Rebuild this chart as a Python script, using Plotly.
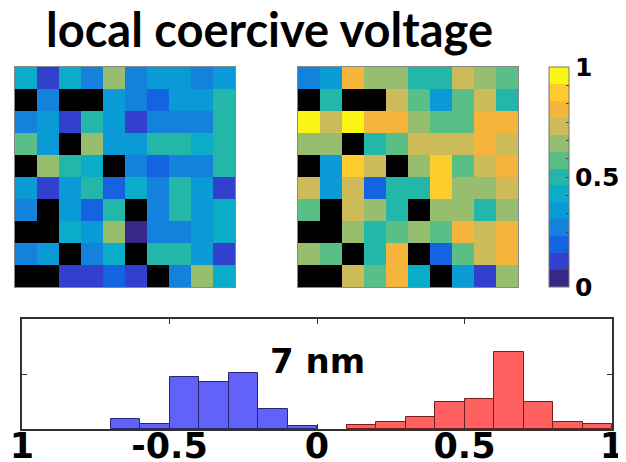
import plotly.graph_objects as go

# ---------------- data ----------------
N = None
left_map = [
    [0.42, 0.115, 0.42, 0.27, 0.68, 0.27, 0.35, 0.35, 0.27, 0.35],
    [N,    0.27,  N,    N,    0.35, 0.27, 0.19, 0.35, 0.35, 0.50],
    [0.27, 0.35,  0.115, 0.50, 0.35, 0.115, 0.27, 0.27, 0.27, 0.50],
    [0.58, 0.35,  N,    0.68, 0.35, 0.35, 0.50, 0.50, 0.42, 0.50],
    [N,    0.65,  0.50, 0.42, N,    0.27, 0.19, 0.27, 0.27, 0.50],
    [0.35, 0.115, 0.35, 0.50, 0.19, 0.42, 0.27, 0.50, 0.35, 0.115],
    [0.27, N,     0.35, 0.19, 0.50, N,    0.27, 0.50, 0.35, 0.42],
    [N,    N,     0.42, 0.35, 0.68, 0.04, 0.27, 0.27, 0.35, 0.42],
    [0.27, 0.35,  N,    0.27, 0.42, N,    0.50, 0.50, 0.35, 0.115],
    [N,    N,     0.115, 0.115, 0.19, 0.115, N,   0.27, 0.68, 0.42],
]
right_map = [
    [0.27, 0.35, 0.81, 0.65, 0.65, 0.50, 0.50, 0.73, 0.65, 0.58],
    [N,    0.50, N,    N,    0.73, 0.58, 0.35, 0.58, 0.73, 0.50],
    [0.96, 0.73, 0.96, 0.81, 0.81, 0.65, 0.58, 0.58, 0.81, 0.81],
    [0.65, 0.65, N,    0.50, 0.58, 0.73, 0.73, 0.73, 0.81, 0.73],
    [N,    0.35, 0.88, 0.73, N,    0.65, 0.88, 0.58, 0.73, 0.81],
    [0.73, 0.35, 0.73, 0.19, 0.50, 0.50, 0.88, 0.65, 0.65, 0.73],
    [0.58, N,    0.73, 0.65, 0.50, N,    0.65, 0.65, 0.50, 0.65],
    [N,    N,    0.65, 0.50, 0.58, 0.65, 0.58, 0.81, 0.73, 0.81],
    [0.65, 0.58, N,    0.50, 0.81, N,    0.19, 0.58, 0.73, 0.81],
    [N,    N,    0.73, 0.58, 0.81, 0.42, N,    0.35, 0.115, 0.65],
]

blue_bins = [-0.65, -0.55, -0.45, -0.35, -0.25, -0.15, -0.05]
blue_counts = [3.5, 1.8, 18.9, 17.1, 20.4, 7.3, 1.1]
red_bins = [0.15, 0.25, 0.35, 0.45, 0.55, 0.65, 0.75, 0.85, 0.95]
red_counts = [1.3, 2.7, 4.3, 9.9, 10.8, 27.9, 9.9, 2.5, 1.9]

hist_ticks = [-1, -0.5, 0, 0.5, 1]
hist_ticktext = ["1", "-0.5", "0", "0.5", "1"]
cbar_labels = {0: "0", 6: "0.5", 12: "1"}

title_text = "local coercive voltage"
label_text = "7 nm"

# ---------------- style ----------------
VW, VH = 626, 462          # browser viewport
OFF = 8                    # default page (body) margin
W, H = VW - OFF, VH - OFF  # figure size so the page fits the viewport exactly

band_colors = [
    "rgb(55,40,135)", "rgb(50,65,205)", "rgb(20,100,225)", "rgb(20,130,220)",
    "rgb(10,155,215)", "rgb(10,172,200)", "rgb(35,183,170)", "rgb(90,190,135)",
    "rgb(150,190,110)", "rgb(205,187,90)", "rgb(245,180,60)", "rgb(252,205,45)",
    "rgb(250,245,20)",
]
nb = len(band_colors)
cscale = []
for s, c in enumerate(band_colors):
    cscale.append([s / nb, c])
    cscale.append([(s + 1) / nb, c])


def fx(a):
    return (a - OFF) / W


def fy(a):
    return 1 - (a - OFF) / H


def px_x(a, b):
    return [fx(a), fx(b)]


def px_y(top, bottom):
    return [fy(bottom), fy(top)]


TFONT = "Lato"
NFONT = "DejaVu Sans"
fig = go.Figure()

fig.add_trace(go.Heatmap(z=left_map, zmin=0, zmax=1, colorscale=cscale,
                         showscale=False, xaxis="x", yaxis="y"))
nt = 12
fig.add_trace(go.Heatmap(
    z=right_map, zmin=0, zmax=1, colorscale=cscale, xaxis="x2", yaxis="y2",
    colorbar=dict(
        x=fx(549), xanchor="left", xpad=0, ypad=0,
        y=fy(177), yanchor="middle",
        thickness=20, thicknessmode="pixels", len=220, lenmode="pixels",
        outlinecolor="#777", outlinewidth=1,
        tickmode="array",
        tickvals=[i / nt for i in range(nt + 1)],
        ticktext=[cbar_labels.get(i, "") for i in range(nt + 1)],
        ticks="inside", ticklen=3, tickcolor="#444",
        tickfont=dict(family=NFONT, size=25, color="black", weight="bold"),
    ),
))

fig.add_trace(go.Bar(x=blue_bins, y=blue_counts, width=0.1,
                     marker=dict(color="rgb(98,98,250)",
                                 line=dict(color="rgb(40,40,110)", width=1)),
                     xaxis="x3", yaxis="y3", showlegend=False))
fig.add_trace(go.Bar(x=red_bins, y=red_counts, width=0.1,
                     marker=dict(color="rgb(255,96,96)",
                                 line=dict(color="rgb(120,30,30)", width=1)),
                     xaxis="x3", yaxis="y3", showlegend=False))

hm_ax = dict(showticklabels=False, ticks="", showgrid=False, zeroline=False,
             showline=True, linecolor="#888", linewidth=1, mirror=True,
             range=[-0.5, 9.5], automargin=False)
fig.update_layout(
    width=W, height=H,
    margin=dict(l=0, r=0, t=0, b=0, pad=0, autoexpand=False),
    paper_bgcolor="white", plot_bgcolor="white",
    showlegend=False, bargap=0,
    xaxis=dict(hm_ax, domain=px_x(15, 235), anchor="y"),
    yaxis=dict(hm_ax, domain=px_y(67, 287), anchor="x", range=[9.5, -0.5]),
    xaxis2=dict(hm_ax, domain=px_x(298, 518), anchor="y2"),
    yaxis2=dict(hm_ax, domain=px_y(67, 287), anchor="x2", range=[9.5, -0.5]),
    xaxis3=dict(domain=px_x(22, 612), anchor="y3", range=[-1, 1],
                tickmode="array", tickvals=hist_ticks, ticktext=hist_ticktext,
                ticks="inside", ticklen=5, tickcolor="#333",
                showline=True, linecolor="#333", linewidth=1.5, mirror="allticks",
                showgrid=False, zeroline=False, automargin=False,
                ticklabelstandoff=-15,
                tickfont=dict(family=NFONT, size=35, color="black", weight="bold")),
    yaxis3=dict(domain=px_y(319, 429), anchor="x3", range=[0, 40],
                tickmode="array", tickvals=[20], showticklabels=False,
                ticks="inside", ticklen=5, tickcolor="#333",
                showline=True, linecolor="#333", linewidth=1.5, mirror="allticks",
                showgrid=False, zeroline=False, automargin=False),
    shapes=[
        dict(type="rect", xref="x domain", yref="y domain", x0=0, x1=1, y0=0, y1=1,
             fillcolor="black", line=dict(width=0), layer="below"),
        dict(type="rect", xref="x2 domain", yref="y2 domain", x0=0, x1=1, y0=0, y1=1,
             fillcolor="black", line=dict(width=0), layer="below"),
    ],
    annotations=[
        dict(text=title_text, xref="paper", yref="paper", x=fx(44), y=fy(29),
             xanchor="left", yanchor="middle", showarrow=False,
             font=dict(family=TFONT, size=47, color="black", weight="bold")),
        dict(text=label_text, xref="x3", yref="y3", x=0.0, y=24.7,
             xanchor="center", yanchor="middle", showarrow=False,
             font=dict(family=NFONT, size=34, color="black", weight="bold")),
    ],
)

fig.write_html("out.html")
